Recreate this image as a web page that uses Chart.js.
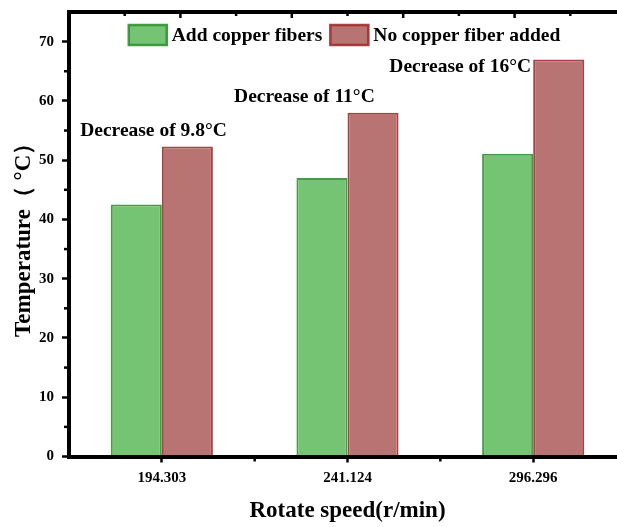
<!DOCTYPE html>
<html><head><meta charset="utf-8">
<script src="https://cdn.jsdelivr.net/npm/chart.js@4/dist/chart.umd.min.js"></script>
<style>
html,body{margin:0;padding:0;overflow:hidden;background:#fff;width:617px;height:527px}
#wrap{width:640px;height:527px}
</style></head><body><div id="wrap"><canvas id="c" width="640" height="527"></canvas></div>
<script>
const categories = ['194.303', '241.124', '296.296'];
const seriesNames = ['Add copper fibers', 'No copper fiber added'];
const withCopper = [42.5, 47.0, 51.1];
const withoutCopper = [52.3, 58.0, 67.0];
const yTicks = [0, 10, 20, 30, 40, 50, 60, 70];
const annotationTexts = ['Decrease of 9.8°C', 'Decrease of 11°C', 'Decrease of 16°C'];
const annotationX = [-0.045, 0.768, 1.607];
const annotationY = [54.9, 60.6, 65.7];

const FONT = "'Liberation Serif', 'Times New Roman', serif";

const axisDecor = {
  id: 'axisDecor',
  afterDraw(chart) {
    const { ctx, chartArea: ca, scales: { x, y } } = chart;
    ctx.save();
    ctx.strokeStyle = '#000';
    ctx.lineCap = 'butt';
    // top frame line
    ctx.lineWidth = 4;
    ctx.beginPath(); ctx.moveTo(ca.left - 2, ca.top); ctx.lineTo(ca.right + 2, ca.top); ctx.stroke();
    // top inward ticks
    ctx.lineWidth = 2.5;
    for (let k = 1; k <= 10; k++) {
      const px = x.getPixelForValue(-0.5 + 0.3 * k);
      const len = (k % 2 === 0) ? 6 : 4;
      ctx.beginPath(); ctx.moveTo(px, ca.top); ctx.lineTo(px, ca.top + len); ctx.stroke();
    }
    // y minor ticks
    for (let v = 5; v < 75; v += 10) {
      const py = y.getPixelForValue(v);
      ctx.beginPath(); ctx.moveTo(ca.left, py); ctx.lineTo(ca.left - 5, py); ctx.stroke();
    }
    // x minor ticks
    for (let i = 0; i < categories.length - 1; i++) {
      const px = x.getPixelForValue(i + 0.5);
      ctx.beginPath(); ctx.moveTo(px, ca.bottom); ctx.lineTo(px, ca.bottom + 5); ctx.stroke();
    }
    // annotations
    ctx.fillStyle = '#000';
    ctx.font = "bold 19.5px " + FONT;
    ctx.textAlign = 'center';
    ctx.textBaseline = 'middle';
    annotationTexts.forEach((t, i) => {
      ctx.fillText(t, x.getPixelForValue(annotationX[i]), y.getPixelForValue(annotationY[i]));
    });
    // legend inside plot area
    ctx.font = "bold 19.5px " + FONT;
    ctx.textAlign = 'left';
    const boxW = 38, boxH = 20, gapBT = 5, gapItems = 8;
    const ds = chart.data.datasets;
    const widths = ds.map(d => boxW + gapBT + ctx.measureText(d.label).width);
    const total = widths.reduce((a, b) => a + b, 0) + gapItems * (ds.length - 1);
    let lx = (ca.left + ca.right) / 2 - total / 2 - 3;
    const ly = ca.top + 13;
    ds.forEach((d, i) => {
      ctx.fillStyle = d.backgroundColor;
      ctx.fillRect(lx, ly, boxW, boxH);
      ctx.strokeStyle = d.borderColor;
      ctx.lineWidth = 2.5;
      ctx.strokeRect(lx, ly, boxW, boxH);
      ctx.fillStyle = '#000';
      ctx.fillText(d.label, lx + boxW + gapBT, ly + boxH / 2 + 1);
      lx += widths[i] + gapItems;
    });
    ctx.restore();
  }
};

new Chart(document.getElementById('c'), {
  type: 'bar',
  data: {
    labels: categories,
    datasets: [
      { label: seriesNames[0], data: withCopper, backgroundColor: '#74C474', borderColor: 'rgba(50,145,50,0.9)', borderWidth: 2 },
      { label: seriesNames[1], data: withoutCopper, backgroundColor: '#B87373', borderColor: 'rgba(158,45,45,0.9)', borderWidth: 2 }
    ]
  },
  options: {
    responsive: false,
    animation: false,
    layout: { padding: { top: 12, right: 14, bottom: 0, left: 0 } },
    datasets: { bar: { categoryPercentage: 0.55, barPercentage: 1.0 } },
    plugins: {
      tooltip: { enabled: false },
      legend: { display: false }
    },
    scales: {
      x: {
        type: 'category',
        offset: true,
        grid: { offset: false, drawOnChartArea: false, tickLength: 6, tickWidth: 2.5, tickColor: '#000' },
        border: { width: 4, color: '#000', z: 1 },
        ticks: { color: '#000', padding: 7, font: { family: FONT, size: 15, weight: 'bold' } },
        title: { display: true, text: 'Rotate speed(r/min)', color: '#000', font: { family: FONT, size: 23, weight: 'bold' }, padding: { top: 0, bottom: 2 } },
        afterFit: s => { s.height = 70.5; s.paddingLeft = 0; s.paddingRight = 0; }
      },
      y: {
        min: 0, max: 75,
        afterBuildTicks: s => { s.ticks = yTicks.map(v => ({ value: v })); },
        grid: { drawOnChartArea: false, tickLength: 7, tickWidth: 2.5, tickColor: '#000' },
        border: { width: 4, color: '#000', z: 1 },
        ticks: { color: '#000', padding: 8, font: { family: FONT, size: 15, weight: 'bold' } },
        title: { display: true, text: 'Temperature（ °C）', color: '#000', font: { family: FONT, size: 23, weight: 'bold' }, padding: { top: 10, bottom: 0 } },
        afterFit: s => { s.width = 69; s.paddingTop = 0; s.paddingBottom = 0; }
      }
    }
  },
  plugins: [axisDecor]
});
</script></body></html>
